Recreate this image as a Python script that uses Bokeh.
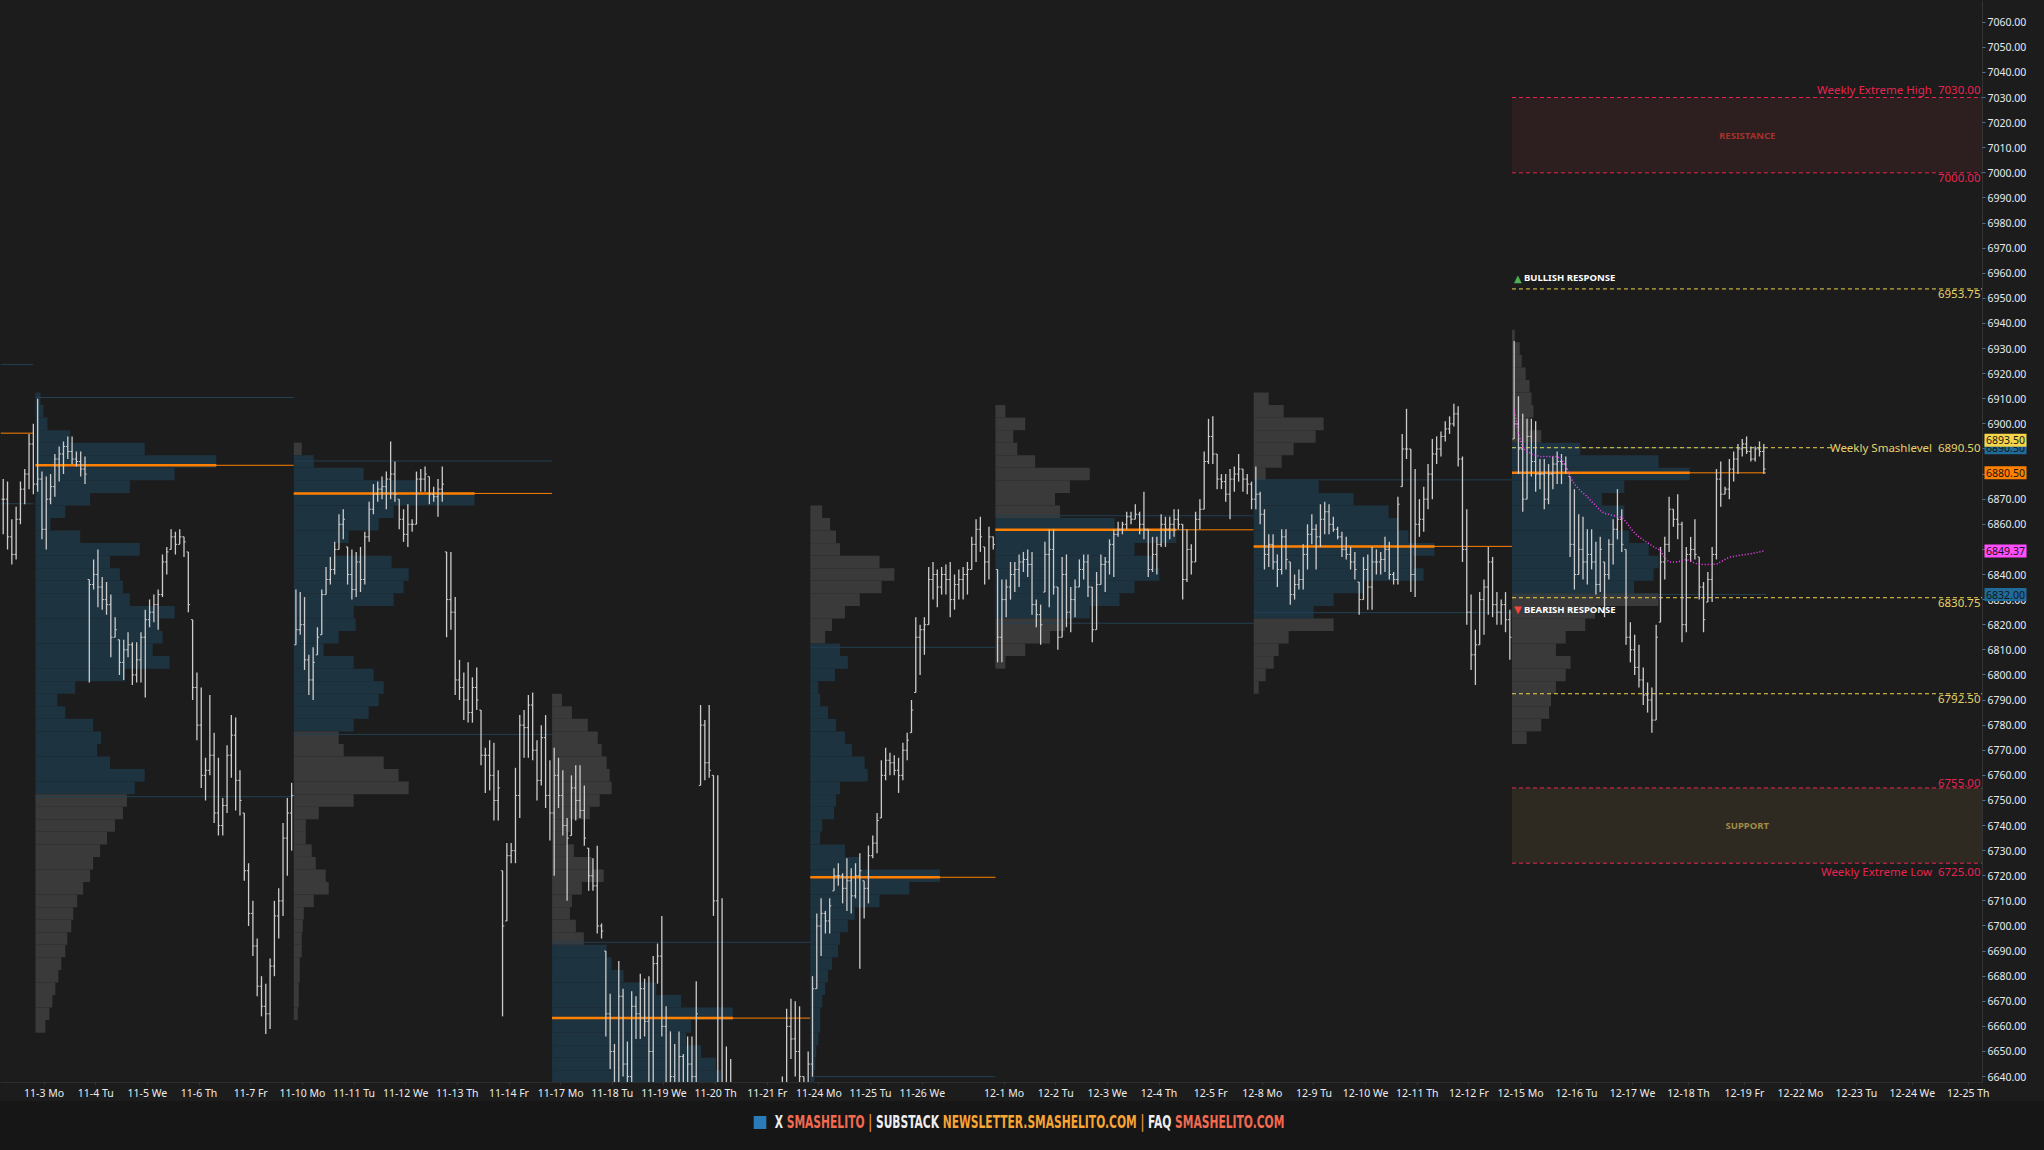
import numpy as np
from bokeh.plotting import figure
from bokeh.models import Range1d, FixedTicker, NumeralTickFormatter, Div
from bokeh.layouts import column
from bokeh.core.properties import value
from bokeh.embed import file_html
from bokeh.resources import INLINE

# ---------------- axis categories ----------------
day_labels = ["10-31 Fr", "11-3 Mo", "11-4 Tu", "11-5 We", "11-6 Th", "11-7 Fr",
              "11-10 Mo", "11-11 Tu", "11-12 We", "11-13 Th", "11-14 Fr",
              "11-17 Mo", "11-18 Tu", "11-19 We", "11-20 Th", "11-21 Fr",
              "11-24 Mo", "11-25 Tu", "11-26 We",
              "12-1 Mo", "12-2 Tu", "12-3 We", "12-4 Th", "12-5 Fr",
              "12-8 Mo", "12-9 Tu", "12-10 We", "12-11 Th", "12-12 Fr",
              "12-15 Mo", "12-16 Tu", "12-17 We", "12-18 Th", "12-19 Fr",
              "12-22 Mo", "12-23 Tu", "12-24 We", "12-25 Th"]
future_sessions = 4
price_ticks = list(range(6640, 7061, 10))

# ---------------- price bars: high / low / close per session ----------------
pre_high = [6878, 6877, 6862, 6867, 6877, 6882, 6896, 6900]
pre_low = [6856, 6850, 6844, 6846, 6860, 6868, 6874, 6872]
pre_close = [6870, 6855, 6848, 6862, 6874, 6880, 6892, 6876]

w1_high = [[6910, 6881, 6879, 6880, 6888, 6891, 6893, 6895, 6895, 6889, 6889, 6887],
           [6838, 6846, 6850, 6839, 6837, 6832, 6823, 6814, 6814, 6817, 6813, 6813],
           [6817, 6826, 6830, 6832, 6834, 6848, 6851, 6858, 6857, 6858, 6855, 6849],
           [6822, 6801, 6795, 6767, 6792, 6777, 6767, 6751, 6772, 6784, 6783, 6762],
           [6745, 6725, 6710, 6695, 6680, 6677, 6687, 6710, 6715, 6741, 6751, 6757]]
w1_low = [[6873, 6854, 6850, 6868, 6871, 6877, 6880, 6886, 6884, 6883, 6879, 6876],
          [6797, 6834, 6827, 6826, 6824, 6807, 6815, 6800, 6798, 6807, 6796, 6797],
          [6797, 6791, 6819, 6821, 6818, 6831, 6840, 6850, 6848, 6852, 6847, 6825],
          [6790, 6774, 6755, 6750, 6760, 6741, 6736, 6736, 6745, 6759, 6746, 6744],
          [6718, 6700, 6688, 6672, 6664, 6657, 6659, 6680, 6695, 6704, 6720, 6730]]
w1_close = [[6878, 6858, 6870, 6875, 6886, 6888, 6891, 6889, 6886, 6885, 6882, 6880],
            [6836, 6840, 6835, 6830, 6828, 6815, 6818, 6805, 6810, 6812, 6800, 6806],
            [6815, 6822, 6825, 6828, 6832, 6845, 6849, 6855, 6852, 6855, 6853, 6828],
            [6795, 6780, 6760, 6762, 6768, 6745, 6740, 6748, 6768, 6776, 6758, 6750],
            [6722, 6705, 6692, 6676, 6668, 6665, 6684, 6704, 6710, 6735, 6745, 6752]]

w2_high = [[6834, 6833, 6831, 6808, 6811, 6819, 6834, 6843, 6847, 6853, 6864, 6866],
           [6851, 6850, 6849, 6851, 6857, 6869, 6876, 6877, 6879, 6881, 6893, 6885],
           [6870, 6866, 6868, 6862, 6881, 6882, 6883, 6879, 6875, 6878, 6883, 6849],
           [6849, 6831, 6806, 6801, 6805, 6799, 6803, 6786, 6771, 6774, 6773, 6762],
           [6722, 6733, 6733, 6763, 6784, 6786, 6792, 6793, 6774, 6780, 6784, 6766]]
w2_low = [[6812, 6816, 6802, 6792, 6790, 6808, 6816, 6832, 6836, 6840, 6850, 6854],
          [6836, 6830, 6831, 6833, 6836, 6853, 6864, 6869, 6870, 6866, 6870, 6869],
          [6858, 6853, 6851, 6857, 6860, 6873, 6873, 6868, 6869, 6863, 6869, 6815],
          [6818, 6792, 6790, 6782, 6781, 6781, 6786, 6764, 6753, 6754, 6742, 6742],
          [6664, 6702, 6725, 6725, 6743, 6767, 6767, 6766, 6750, 6756, 6747, 6734]]
w2_close = [[6818, 6820, 6806, 6798, 6805, 6815, 6832, 6838, 6842, 6850, 6860, 6862],
            [6840, 6834, 6845, 6838, 6855, 6866, 6872, 6874, 6875, 6878, 6880, 6872],
            [6862, 6856, 6860, 6860, 6878, 6878, 6880, 6872, 6871, 6874, 6876, 6830],
            [6825, 6798, 6795, 6790, 6785, 6795, 6790, 6768, 6768, 6760, 6750, 6755],
            [6700, 6728, 6730, 6752, 6780, 6779, 6788, 6770, 6758, 6775, 6752, 6745]]

w3_high = [[6771, 6767, 6762, 6743, 6760, 6764, 6764, 6756, 6731, 6727, 6732, 6701],
           [6690, 6673, 6653, 6686, 6675, 6654, 6674, 6672, 6681, 6679, 6680, 6688],
           [6693, 6704, 6668, 6658, 6653, 6658, 6649, 6656, 6656, 6678, 6788, 6782],
           [6788, 6760, 6760, 6711, 6652, 6647, 6625, 6610, 6600, 6595, 6590, 6600],
           [6590, 6600, 6610, 6615, 6631, 6640, 6667, 6671, 6670, 6668, 6640, 6650]]
w3_low = [[6720, 6747, 6736, 6710, 6736, 6742, 6743, 6732, 6714, 6714, 6697, 6695],
          [6656, 6643, 6610, 6620, 6640, 6625, 6634, 6655, 6655, 6656, 6636, 6636],
          [6677, 6656, 6620, 6615, 6620, 6625, 6615, 6618, 6625, 6634, 6756, 6758],
          [6759, 6704, 6600, 6600, 6590, 6585, 6575, 6560, 6555, 6545, 6540, 6550],
          [6545, 6560, 6575, 6570, 6590, 6600, 6620, 6647, 6640, 6634, 6615, 6620]]
w3_close = [[6760, 6752, 6740, 6735, 6755, 6750, 6746, 6735, 6720, 6716, 6700, 6698],
            [6665, 6650, 6625, 6672, 6645, 6640, 6668, 6665, 6675, 6662, 6650, 6685],
            [6688, 6660, 6630, 6640, 6628, 6648, 6630, 6645, 6640, 6665, 6780, 6765],
            [6762, 6710, 6620, 6615, 6605, 6600, 6590, 6575, 6570, 6560, 6565, 6585],
            [6575, 6590, 6580, 6605, 6620, 6630, 6660, 6655, 6650, 6640, 6625, 6645]]

# Thanksgiving week: 11-24, 11-25, 11-26 and the short 11-28 session
w4_high = [[6680, 6705, 6711, 6706, 6711, 6723, 6725, 6721, 6727, 6723, 6725, 6729],
           [6718, 6732, 6736, 6745, 6766, 6771, 6769, 6768, 6767, 6773, 6777, 6790],
           [6823, 6820, 6823, 6843, 6845, 6842, 6843, 6844, 6845, 6840, 6842, 6843],
           [6845, 6855, 6862, 6863, 6851, 6859, 6855]]
w4_low = [[6640, 6675, 6688, 6697, 6697, 6714, 6716, 6709, 6706, 6705, 6711, 6683],
          [6703, 6709, 6727, 6729, 6743, 6758, 6760, 6760, 6753, 6758, 6766, 6777],
          [6793, 6800, 6808, 6820, 6830, 6827, 6832, 6832, 6823, 6826, 6830, 6830],
          [6832, 6842, 6845, 6849, 6836, 6838, 6850]]
w4_close = [[6675, 6700, 6705, 6702, 6708, 6720, 6720, 6715, 6718, 6712, 6720, 6722],
            [6715, 6728, 6733, 6742, 6760, 6766, 6765, 6762, 6760, 6770, 6774, 6786],
            [6815, 6818, 6820, 6838, 6840, 6835, 6840, 6838, 6830, 6836, 6838, 6840],
            [6842, 6852, 6858, 6855, 6845, 6855, 6852]]

w5_high = [[6842, 6838, 6838, 6845, 6845, 6848, 6849, 6850, 6849, 6830, 6828, 6853],
           [6858, 6858, 6835, 6847, 6848, 6835, 6838, 6846, 6848, 6848, 6835, 6841],
           [6848, 6847, 6854, 6858, 6861, 6861, 6865, 6865, 6868, 6865, 6873, 6858],
           [6855, 6855, 6864, 6863, 6863, 6866, 6866, 6860, 6858, 6852, 6865, 6870],
           [6889, 6902, 6903, 6888, 6880, 6880, 6882, 6883, 6888, 6882, 6880, 6877]]
w5_low = [[6805, 6805, 6823, 6830, 6833, 6835, 6841, 6839, 6824, 6819, 6812, 6833],
          [6827, 6832, 6810, 6815, 6819, 6817, 6823, 6835, 6838, 6831, 6813, 6818],
          [6836, 6833, 6840, 6839, 6855, 6856, 6858, 6860, 6862, 6856, 6854, 6839],
          [6841, 6840, 6851, 6851, 6854, 6855, 6858, 6830, 6837, 6840, 6845, 6858],
          [6866, 6884, 6884, 6874, 6874, 6869, 6862, 6873, 6877, 6873, 6872, 6866]]
w5_close = [[6815, 6830, 6835, 6840, 6842, 6845, 6846, 6844, 6828, 6824, 6820, 6848],
            [6850, 6835, 6815, 6840, 6825, 6830, 6835, 6842, 6845, 6835, 6818, 6836],
            [6844, 6845, 6852, 6856, 6858, 6860, 6863, 6862, 6864, 6860, 6858, 6842],
            [6848, 6852, 6860, 6858, 6860, 6862, 6860, 6838, 6850, 6845, 6862, 6866],
            [6885, 6895, 6888, 6878, 6877, 6872, 6878, 6880, 6882, 6878, 6876, 6870]]

w6_high = [[6883, 6873, 6866, 6856, 6856, 6848, 6858, 6858, 6845, 6840, 6842, 6852],
           [6860, 6864, 6860, 6868, 6869, 6868, 6863, 6859, 6857, 6855, 6851, 6849],
           [6837, 6847, 6848, 6851, 6850, 6849, 6855, 6853, 6841, 6871, 6896, 6906],
           [6890, 6882, 6870, 6875, 6884, 6894, 6895, 6897, 6901, 6903, 6908, 6907],
           [6887, 6866, 6832, 6818, 6833, 6838, 6851, 6847, 6833, 6830, 6833, 6826]]
w6_low = [[6866, 6860, 6842, 6843, 6842, 6835, 6840, 6842, 6828, 6830, 6834, 6834],
          [6842, 6852, 6842, 6851, 6856, 6856, 6857, 6854, 6847, 6846, 6842, 6838],
          [6824, 6830, 6826, 6826, 6840, 6840, 6841, 6838, 6836, 6836, 6875, 6886],
          [6833, 6831, 6855, 6857, 6866, 6870, 6884, 6887, 6893, 6896, 6899, 6883],
          [6845, 6820, 6802, 6796, 6812, 6816, 6824, 6823, 6820, 6820, 6817, 6806]]
w6_close = [[6872, 6864, 6848, 6852, 6845, 6842, 6855, 6846, 6832, 6836, 6838, 6848],
            [6856, 6858, 6855, 6862, 6865, 6860, 6858, 6855, 6850, 6848, 6845, 6842],
            [6830, 6842, 6835, 6845, 6845, 6846, 6850, 6840, 6838, 6868, 6890, 6890],
            [6840, 6860, 6862, 6870, 6880, 6888, 6890, 6895, 6898, 6900, 6904, 6886],
            [6850, 6825, 6808, 6812, 6830, 6835, 6845, 6828, 6825, 6828, 6822, 6815]]

w7_high = [[6933, 6911, 6904, 6902, 6902, 6901, 6886, 6886, 6884, 6887, 6889, 6888, 6887],
           [6879, 6874, 6864, 6863, 6858, 6858, 6853, 6855, 6845, 6854, 6862, 6874, 6866],
           [6850, 6821, 6816, 6812, 6803, 6797, 6795, 6820, 6851, 6855, 6871, 6866, 6872],
           [6861, 6851, 6855, 6862, 6847, 6837, 6841, 6851, 6882, 6885, 6875, 6886, 6889],
           [6892, 6894, 6895, 6891, 6891, 6893, 6892]]
w7_low = [[6894, 6880, 6865, 6870, 6879, 6873, 6874, 6866, 6868, 6874, 6876, 6876, 6880],
          [6847, 6834, 6840, 6838, 6836, 6842, 6832, 6833, 6823, 6838, 6844, 6854, 6849],
          [6812, 6805, 6800, 6795, 6788, 6785, 6777, 6782, 6821, 6838, 6849, 6859, 6854],
          [6813, 6817, 6845, 6846, 6830, 6817, 6829, 6829, 6846, 6867, 6872, 6870, 6877],
          [6880, 6887, 6888, 6885, 6885, 6887, 6880]]
w7_close = [[6900, 6890, 6870, 6895, 6885, 6880, 6880, 6870, 6880, 6884, 6885, 6884, 6882],
            [6852, 6840, 6850, 6845, 6848, 6845, 6836, 6850, 6840, 6852, 6858, 6862, 6852],
            [6815, 6810, 6803, 6798, 6792, 6790, 6782, 6815, 6845, 6852, 6866, 6862, 6860],
            [6820, 6848, 6850, 6848, 6835, 6822, 6838, 6848, 6878, 6872, 6874, 6882, 6886],
            [6890, 6892, 6889, 6886, 6890, 6889, 6882]]
week_session_bars = [12, 12, 12, 12, 12, 12, 13]

# weekly VWAP of the current week, one value per bar
w7_vwap = [6906, 6896, 6890.5, 6889, 6888, 6887.5, 6887, 6887, 6887, 6887, 6887, 6886, 6883,
           6879, 6876, 6874, 6872.5, 6871, 6869, 6867.5, 6865.5, 6864.3, 6864, 6863.5, 6863, 6862.7,
           6861, 6858.5, 6856.5, 6855, 6853.8, 6852.7, 6851.5, 6850.5, 6849.6, 6846.5, 6845, 6845, 6845,
           6845.5, 6846, 6845.3, 6844.5, 6844.1, 6844, 6844, 6844, 6844.1, 6845, 6846, 6846.9, 6847.2,
           6847.5, 6847.8, 6848, 6848.3, 6848.6, 6849, 6849.37]

# ---------------- weekly volume profiles (5-pt rows, from top price downward) ----------------
prof_top = [6910, 6890, 6790, 6865, 6905, 6910, 6935]
prof_vah = [6910.5, 6885.2, 6693.5, 6811.0, 6863.4, 6877.7, 6890.5]
prof_val = [6751.5, 6776.3, 6600.0, 6640.0, 6820.6, 6824.8, 6832.0]
prof_poc = [6883.5, 6872.3, 6663.3, 6719.4, 6857.8, 6851.2, 6880.5]
prof_w1 = [5, 8, 12, 35, 110, 182, 140, 95, 55, 30, 15, 45, 105, 75, 85, 88, 95, 140, 125, 128,
           118, 135, 90, 40, 22, 30, 58, 66, 62, 75, 110, 100, 92, 88, 80, 72, 65, 58, 55, 48,
           42, 38, 36, 32, 30, 26, 23, 20, 17, 14, 10]
prof_w2 = [8, 20, 70, 125, 181, 100, 85, 55, 40, 98, 115, 110, 100, 60, 62, 45, 30, 60, 80, 90,
           85, 75, 60, 45, 50, 90, 105, 115, 60, 25, 12, 12, 18, 22, 32, 35, 20, 10, 9, 8,
           8, 6, 6, 5, 5, 4]
prof_w3 = [10, 20, 36, 46, 50, 55, 58, 60, 48, 38, 18, 14, 22, 40, 52, 30, 20, 18, 24, 32,
           55, 60, 72, 105, 130, 182, 140, 135, 150, 165, 170, 160, 150, 140, 130, 120, 105, 95, 90, 80,
           75, 70, 62, 55, 45, 35, 25, 15, 10, 6]
prof_w4 = [12, 20, 26, 30, 70, 85, 72, 50, 35, 22, 15, 30, 38, 25, 8, 10, 18, 26, 35, 42,
           55, 58, 30, 26, 24, 12, 10, 35, 50, 131, 100, 70, 45, 38, 30, 28, 22, 18, 15, 12,
           10, 10, 8, 6, 5, 4]
prof_w5 = [10, 30, 18, 22, 40, 95, 75, 60, 65, 120, 182, 140, 160, 165, 140, 125, 95, 70, 55, 30, 10]
prof_w6 = [15, 30, 70, 62, 40, 28, 12, 65, 100, 135, 145, 155, 181, 160, 170, 110, 80, 60, 80, 35,
           25, 20, 12, 5]
prof_w7 = [3, 8, 10, 14, 18, 20, 22, 18, 30, 70, 150, 182, 115, 92, 115, 105, 120, 140, 150, 145,
           125, 150, 85, 75, 55, 45, 60, 55, 45, 40, 38, 30, 15]
prev_week_levels = [6923.6, 6896.3, 6868.2]  # VAH, POC, VAL of prior week

# ---------------- this week's levels ----------------
ext_high, ext_high_in = 7030.0, 7000.0
ext_low_in, ext_low = 6755.0, 6725.0
bull_level = 6953.75
smash_level = 6890.50
bear_level = 6830.75
lower_level = 6792.50
tag_values = [6890.50, 6893.50, 6880.50, 6849.37, 6832.00]
tag_colors = ["#1f6b99", "#f5d54a", "#ff8000", "#ff4dff", "#1f6b99"]

# ---------------- styling / layout constants ----------------
BG = "#1c1c1c"
FOOT_BG = "#161616"
VA_COL = "#1d3340"
OUT_COL = "#3a3a3a"
VA_LINE = "#233f52"
ORANGE = "#ff8000"
BAR_COL = "#cccccc"
CRIMSON = "#e8244f"
YEL_LINE = "#f0d44c"
YEL_TXT = "#e6d36a"
FONT = "Noto Sans"
LEVEL_FS = "11.5px"
W, H, FOOT_H = 2028, 1101, 33
PX_PER_BAR = 4.3046
PX_PER_PT = 2.5105
X0 = -35 / PX_PER_BAR                 # left edge of the view, in bar slots
X1 = X0 + W / PX_PER_BAR
S_AX = 1947 / PX_PER_BAR              # price scale position
Y1 = 7068.64
Y0 = Y1 - H / PX_PER_PT
P_AX = Y1 - 1082 / PX_PER_PT          # time scale position
LABEL_SHIFT = 2                       # date changes two bars after session open
PROFILE_MAX = 42                      # bars, for a full week
TAG_X = S_AX + 23 / PX_PER_BAR

p = figure(width=W, height=H, x_range=Range1d(X0, X1), y_range=Range1d(Y0, Y1),
           output_backend="svg", toolbar_location=None, y_axis_location="right",
           background_fill_color=BG, border_fill_color=BG, outline_line_color=None,
           min_border_left=0, min_border_top=0, min_border_right=0, min_border_bottom=0)
p.grid.visible = False

# ---------------- bar coordinates (x = bar slot) ----------------
weeks = [(w1_high, w1_low, w1_close), (w2_high, w2_low, w2_close), (w3_high, w3_low, w3_close),
         (w4_high, w4_low, w4_close), (w5_high, w5_low, w5_close), (w6_high, w6_low, w6_close),
         (w7_high, w7_low, w7_close)]
bx, bh, bl, bc = [], [], [], []
npre = len(pre_high)
for j in range(npre):
    bx.append(-npre + j + 0.5)
    bh.append(pre_high[j]); bl.append(pre_low[j]); bc.append(pre_close[j])
slot = 0
week_start, week_bars, labeled_starts, week_bar_x = [], [], [], []
for w, (Hs, Ls, Cs) in enumerate(weeks):
    week_start.append(slot)
    wx = []
    for i in range(len(Hs)):
        n = len(Hs[i])
        last = (w == len(weeks) - 1 and i == len(Hs) - 1)
        if n >= week_session_bars[w] or last:
            labeled_starts.append(slot)
        for j in range(n):
            x = slot + j + 0.5
            bx.append(x); wx.append(x)
            bh.append(Hs[i][j]); bl.append(Ls[i][j]); bc.append(Cs[i][j])
        slot += week_session_bars[w] if last else n
    week_bar_x.append(wx)
    week_bars.append(sum(len(d) for d in Hs))
bx = np.array(bx); bh = np.array(bh, float); bl = np.array(bl, float); bc = np.array(bc, float)
bo = np.empty_like(bc)
bo[0] = bc[0]
bo[1:] = np.clip(bc[:-1], bl[1:], bh[1:])

ticks = [-week_session_bars[0] + LABEL_SHIFT] + [s + LABEL_SHIFT for s in labeled_starts] + \
        [slot + k * week_session_bars[-1] + LABEL_SHIFT for k in range(future_sessions)]

# ---------------- axes (library axes, drawn at fixed positions) ----------------
yax = p.yaxis[0]
yax.fixed_location = S_AX
yax.bounds = (P_AX, Y1)
yax.ticker = FixedTicker(ticks=price_ticks)
yax.formatter = NumeralTickFormatter(format="0.00")
yax.major_label_text_color = "#e6ebf2"
yax.major_label_text_font = FONT
yax.major_label_text_font_size = "10.5px"
yax.axis_line_color = "#333333"
yax.major_tick_line_color = "#3d74b0"
yax.major_tick_out = 3
yax.major_tick_in = 0
yax.minor_tick_line_color = None
yax.major_label_standoff = 2

xax = p.xaxis[0]
xax.fixed_location = P_AX
xax.bounds = (X0, S_AX)
xax.ticker = FixedTicker(ticks=ticks)
xax.major_label_overrides = {t: lab for t, lab in zip(ticks, day_labels)}
xax.major_label_text_color = "#ececec"
xax.major_label_text_font = FONT
xax.major_label_text_font_size = "10.5px"
xax.axis_line_color = "#2e2e2e"
xax.major_tick_line_color = "#3a3a3a"
xax.major_tick_out = 2
xax.major_tick_in = 0
xax.minor_tick_line_color = None
xax.major_label_standoff = 1

# ---------------- zones (current week) ----------------
zs = week_start[-1]
p.quad(left=[zs], right=[S_AX], bottom=[ext_high_in], top=[ext_high], fill_color="#2d1f1f", line_color=None)
p.quad(left=[zs], right=[S_AX], bottom=[ext_low], top=[ext_low_in], fill_color="#2e2a21", line_color=None)

# ---------------- volume profiles ----------------
profiles = [prof_w1, prof_w2, prof_w3, prof_w4, prof_w5, prof_w6, prof_w7]
week_end = week_start[1:] + [week_bar_x[-1][-1] + 0.5]
full_week = 5 * week_session_bars[0]
for w, vols in enumerate(profiles):
    s = week_start[w]
    e = week_end[w]
    centers = [prof_top[w] - 5 * i for i in range(len(vols))]
    vmax = max(vols)
    maxlen = PROFILE_MAX * min(1.0, week_bars[w] / full_week)
    rights = [s + v / vmax * maxlen for v in vols]
    cols = [VA_COL if prof_val[w] <= c <= prof_vah[w] else OUT_COL for c in centers]
    p.hbar(y=centers, left=s, right=rights, height=5, fill_color=cols, line_color=None)
    p.segment(x0=[s, s], y0=[prof_vah[w], prof_val[w]], x1=[e, e], y1=[prof_vah[w], prof_val[w]],
              line_color=VA_LINE, line_width=1)
    p.segment(x0=[s], y0=[prof_poc[w]], x1=[e], y1=[prof_poc[w]], line_color=ORANGE, line_width=1)
    p.segment(x0=[s], y0=[prof_poc[w]], x1=[s + maxlen], y1=[prof_poc[w]], line_color=ORANGE, line_width=2.5)

# prior week lines at the left edge
p.segment(x0=[X0] * 3, y0=prev_week_levels, x1=[-0.5] * 3, y1=prev_week_levels,
          line_color=[VA_LINE, ORANGE, VA_LINE], line_width=1)

# ---------------- level lines ----------------
smash_end = S_AX - 150 / PX_PER_BAR
p.segment(x0=[zs] * 4, y0=[ext_high, ext_high_in, ext_low_in, ext_low], x1=[S_AX] * 4,
          y1=[ext_high, ext_high_in, ext_low_in, ext_low], line_color=CRIMSON, line_width=1, line_dash="4 3")
p.segment(x0=[zs] * 4, y0=[bull_level, smash_level, bear_level, lower_level],
          x1=[S_AX, smash_end, S_AX, S_AX], y1=[bull_level, smash_level, bear_level, lower_level],
          line_color=YEL_LINE, line_width=1, line_dash="4 3")

# ---------------- OHLC bars ----------------
tk = 0.4
p.segment(x0=bx, y0=bl, x1=bx, y1=bh, line_color=BAR_COL, line_width=1.3)
p.segment(x0=bx - tk, y0=bo, x1=bx, y1=bo, line_color=BAR_COL, line_width=1)
p.segment(x0=bx, y0=bc, x1=bx + tk, y1=bc, line_color=BAR_COL, line_width=1)

# weekly VWAP
p.line(x=week_bar_x[-1], y=w7_vwap, line_color="#ff44ff", line_width=1.5, line_dash="1 2")

# ---------------- texts ----------------
xr = S_AX
tf = value(FONT)
p.text(x=[xr], y=[ext_high], text=["Weekly Extreme High \u00a07030.00"], text_color=CRIMSON,
       text_font=tf, text_font_size=LEVEL_FS, text_align="right", text_baseline="bottom",
       x_offset=-2, y_offset=-1)
p.text(x=[xr], y=[ext_high_in], text=["7000.00"], text_color=CRIMSON, text_font=tf,
       text_font_size=LEVEL_FS, text_align="right", text_baseline="top", x_offset=-2, y_offset=1)
p.text(x=[xr], y=[ext_low_in], text=["6755.00"], text_color=CRIMSON, text_font=tf,
       text_font_size=LEVEL_FS, text_align="right", text_baseline="bottom", x_offset=-2, y_offset=-1)
p.text(x=[xr], y=[ext_low], text=["Weekly Extreme Low \u00a06725.00"], text_color=CRIMSON,
       text_font=tf, text_font_size=LEVEL_FS, text_align="right", text_baseline="top",
       x_offset=-2, y_offset=1)
p.text(x=[xr, xr, xr], y=[bull_level, bear_level, lower_level], text=["6953.75", "6830.75", "6792.50"],
       text_color=YEL_TXT, text_font=tf, text_font_size=LEVEL_FS, text_align="right",
       text_baseline="top", x_offset=-2, y_offset=1)
p.text(x=[xr], y=[smash_level], text=["Weekly Smashlevel \u00a06890.50"], text_color=YEL_TXT,
       text_font=tf, text_font_size=LEVEL_FS, text_align="right", text_baseline="middle", x_offset=-2)
p.text(x=[(zs + S_AX) / 2], y=[(ext_high + ext_high_in) / 2], text=["RESISTANCE"], text_color="#a5322c",
       text_font=tf, text_font_size="9.5px", text_font_style="bold", text_align="center",
       text_baseline="middle")
p.text(x=[(zs + S_AX) / 2], y=[(ext_low + ext_low_in) / 2], text=["SUPPORT"], text_color="#a08c45",
       text_font=tf, text_font_size="9.5px", text_font_style="bold", text_align="center",
       text_baseline="middle")
p.text(x=[zs], y=[bull_level], text=["\u25B2"], text_color="#4caf50", text_font=value("DejaVu Sans"),
       text_font_size="10px", text_baseline="bottom", x_offset=2, y_offset=-5)
p.text(x=[zs], y=[bull_level], text=["BULLISH RESPONSE"], text_color="#ffffff", text_font=tf,
       text_font_size="9.5px", text_font_style="bold", text_baseline="bottom", x_offset=12, y_offset=-5)
p.text(x=[zs], y=[bear_level], text=["\u25BC"], text_color="#f0453a", text_font=value("DejaVu Sans"),
       text_font_size="10px", text_baseline="middle", x_offset=2, y_offset=12)
p.text(x=[zs], y=[bear_level], text=["BEARISH RESPONSE"], text_color="#ffffff", text_font=tf,
       text_font_size="9.5px", text_font_style="bold", text_baseline="middle", x_offset=12, y_offset=12)

# keep the scale areas clean
p.quad(left=[X0], right=[X1], bottom=[Y0], top=[P_AX], fill_color=BG, line_color=None)
p.quad(left=[S_AX], right=[X1], bottom=[Y0], top=[Y1], fill_color=BG, line_color=None)

# price tags on the price scale
for v, c in zip(tag_values, tag_colors):
    p.rect(x=[TAG_X], y=[v], width=42, height=13, width_units="screen", height_units="screen",
           fill_color=c, line_color=None, level="overlay")
    p.text(x=[TAG_X], y=[v], text=[f"{v:.2f}"], text_color="#151515", text_font=tf,
           text_font_size="10.5px", text_align="center", text_baseline="middle", level="overlay")

footer_html = (
    f'<div style="width:{W}px;height:{FOOT_H}px;background:{FOOT_BG};display:flex;align-items:center;'
    'justify-content:center;overflow:hidden;">'
    '<span style="display:inline-block;white-space:nowrap;transform:scaleX(0.70);'
    'font-family:\'Liberation Sans Narrow\',\'DejaVu Sans Condensed\',sans-serif;'
    f'font-weight:bold;font-size:17px;line-height:{FOOT_H}px;">'
    '<span style="display:inline-block;width:18px;height:13px;background:#2b7bb9;margin-right:12px;'
    'vertical-align:-1px;"></span>'
    '<span style="color:#eeeeee">X&nbsp;</span><span style="color:#f26b50">SMASHELITO</span>'
    '<span style="color:#e8913a">&nbsp;|&nbsp;</span>'
    '<span style="color:#eeeeee">SUBSTACK&nbsp;</span><span style="color:#f7a534">NEWSLETTER.SMASHELITO.COM</span>'
    '<span style="color:#e8913a">&nbsp;|&nbsp;</span>'
    '<span style="color:#eeeeee">FAQ&nbsp;</span><span style="color:#f26b50">SMASHELITO.COM</span>'
    '</span></div>')
footer = Div(text=footer_html, width=W, height=FOOT_H)

layout = column(p, footer, spacing=0)
page_css = ("{% block preamble %}<style>html{background:linear-gradient(to bottom," + BG + " 0px," + BG +
            " " + str(H) + "px," + FOOT_BG + " " + str(H) + "px) " + FOOT_BG + ";min-height:100%;}"
            "body{background:transparent;}</style>{% endblock %}")
open("out.html", "w").write(file_html(layout, INLINE, template=page_css))
